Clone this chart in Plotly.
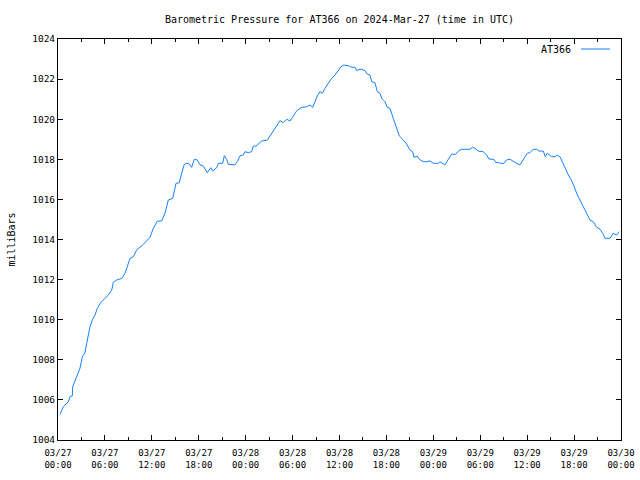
import plotly.graph_objects as go
import pandas as pd

# hours after 2024-03-27 00:00 UTC
hours = [0.26, 0.68, 1.32, 1.53, 1.83, 1.88, 2.39, 2.81, 3.11, 3.45, 3.67, 3.87, 4.09, 4.39,
         4.73, 5.03, 5.5, 6.01, 6.43, 6.87, 7.07, 7.51, 8.15, 8.57, 8.99, 9.21, 9.63, 10.06,
         10.9, 11.76, 12.19, 12.7, 13.26, 13.68, 14.11, 14.67, 15.09, 15.51, 15.82, 16.15,
         16.46, 16.79, 17.09, 17.43, 17.81, 18.16, 18.58, 19.09, 19.53, 19.78, 20.29, 20.5,
         21.06, 21.27, 21.57, 21.78, 22.63, 22.93, 23.27, 23.7, 23.91, 24.34, 24.77, 24.97,
         25.32, 25.61, 26.05, 26.77, 27.6, 28.39, 28.81, 29.24, 29.67, 30.09, 30.52, 30.95,
         31.16, 31.8, 32.23, 32.57, 32.86, 33.16, 33.5, 33.8, 34.14, 34.57, 35.0, 35.42,
         35.85, 36.19, 36.57, 37.12, 37.56, 37.98, 38.2, 38.49, 38.84, 39.26, 39.55, 39.9,
         40.11, 40.54, 40.83, 41.18, 41.4, 41.82, 42.11, 42.46, 42.88, 43.31, 43.65, 44.08,
         44.59, 45.01, 45.36, 45.52, 45.95, 46.2, 46.51, 46.71, 47.15, 47.57, 47.99, 48.63,
         48.85, 49.49, 49.91, 50.35, 50.86, 51.28, 51.62, 52.69, 52.98, 53.32, 53.75, 54.39,
         54.82, 55.12, 55.75, 56.01, 56.31, 56.52, 57.03, 57.38, 57.8, 58.22, 58.66, 59.08,
         59.51, 60.02, 60.36, 60.78, 61.22, 61.51, 62.06, 62.32, 62.57, 63.13, 63.55, 63.85,
         64.19, 64.54, 64.83, 65.26, 65.69, 66.02, 66.41, 66.75, 67.18, 67.61, 68.03, 68.45,
         68.89, 69.31, 69.66, 69.95, 70.59, 71.01, 71.44, 71.78]

pressure = [1005.28, 1005.66, 1005.91, 1006.16, 1006.2, 1006.66, 1007.16, 1007.58, 1008.15,
            1008.35, 1008.82, 1009.32, 1009.65, 1009.99, 1010.23, 1010.57, 1010.87, 1011.07,
            1011.23, 1011.48, 1011.86, 1011.98, 1012.06, 1012.31, 1012.89, 1013.06, 1013.14,
            1013.48, 1013.75, 1014.11, 1014.56, 1014.92, 1014.92, 1015.31, 1015.97, 1016.05,
            1016.80, 1016.83, 1017.30, 1017.75, 1017.80, 1017.77, 1017.60, 1018.00, 1017.97,
            1017.72, 1017.67, 1017.33, 1017.58, 1017.42, 1017.58, 1017.80, 1017.80, 1018.18,
            1018.00, 1017.75, 1017.72, 1017.88, 1018.17, 1018.22, 1018.38, 1018.33, 1018.38,
            1018.66, 1018.66, 1018.76, 1018.91, 1018.96, 1019.45, 1019.93, 1019.83, 1020.0,
            1019.91, 1020.16, 1020.41, 1020.54, 1020.59, 1020.62, 1020.71, 1020.59, 1020.87,
            1021.16, 1021.37, 1021.29, 1021.54, 1021.79, 1022.04, 1022.20, 1022.42, 1022.62,
            1022.70, 1022.67, 1022.59, 1022.59, 1022.42, 1022.49, 1022.49, 1022.42, 1022.25,
            1022.20, 1021.87, 1021.82, 1021.37, 1021.29, 1021.04, 1020.87, 1020.59, 1020.54,
            1020.04, 1019.55, 1019.16, 1019.00, 1018.76, 1018.46, 1018.38, 1018.10, 1018.16,
            1018.00, 1017.95, 1017.88, 1017.88, 1017.92, 1017.80, 1017.80, 1017.88, 1017.72,
            1018.00, 1018.26, 1018.25, 1018.43, 1018.50, 1018.50, 1018.60, 1018.55, 1018.41,
            1018.38, 1018.21, 1018.01, 1018.00, 1017.83, 1017.85, 1017.80, 1017.80, 1017.97,
            1018.00, 1017.88, 1017.80, 1017.72, 1017.97, 1018.30, 1018.33, 1018.50, 1018.50,
            1018.41, 1018.41, 1018.13, 1018.30, 1018.13, 1018.13, 1018.21, 1018.13, 1017.88,
            1017.60, 1017.22, 1016.93, 1016.63, 1016.22, 1015.97, 1015.64, 1015.31, 1014.97,
            1014.89, 1014.61, 1014.51, 1014.31, 1014.06, 1014.06, 1014.31, 1014.22, 1014.39]

series_name = "AT366"
title_text = "Barometric Pressure for AT366 on 2024-Mar-27 (time in UTC)"
y_label = "milliBars"
start = pd.Timestamp("2024-03-27 00:00")
end = pd.Timestamp("2024-03-30 00:00")
y_range = [1004, 1024]

times = [start + pd.Timedelta(hours=h) for h in hours]
tick_times = pd.date_range(start, end, freq="6h")
tick_text = [t.strftime("%m/%d<br>%H:%M") for t in tick_times]

color = "rgb(20,130,250)"
font = "DejaVu Sans Mono"

fig = go.Figure()
fig.add_trace(go.Scatter(x=times, y=pressure, mode="lines", name=series_name,
                         line=dict(color=color, width=1), showlegend=False))

fig.update_layout(
    width=640, height=480,
    margin=dict(l=58, r=19, t=39, b=40, autoexpand=False),
    paper_bgcolor="white", plot_bgcolor="white",
    title=dict(text=title_text, x=0.5, xref="paper", xanchor="center",
               y=1 - 19 / 480, yanchor="middle",
               font=dict(family=font, size=10, color="black")),
    font=dict(family=font, color="black"),
    xaxis=dict(range=[start, end], tickvals=list(tick_times), ticktext=tick_text,
               automargin=False,
               ticks="inside", ticklen=5, tickcolor="black", tickwidth=1,
               showline=True, linecolor="black", linewidth=1, mirror="allticks",
               showgrid=False, zeroline=False, ticklabelstandoff=4,
               tickfont=dict(family=font, size=9, color="black"),
               minor=dict(dtick=3 * 3600 * 1000, tick0=start, ticks="inside", ticklen=3,
                          tickcolor="black", showgrid=False)),
    yaxis=dict(range=y_range, dtick=2, tick0=1004, tickformat="d",
               automargin=False,
               ticks="inside", ticklen=5, tickcolor="black", tickwidth=1,
               showline=True, linecolor="black", linewidth=1, mirror="allticks",
               showgrid=False, zeroline=False,
               tickfont=dict(family=font, size=9.5, color="black"),
               title=dict(text=y_label, standoff=14,
                          font=dict(family=font, size=10, color="black"))),
)

# legend key (gnuplot style: label left of sample line)
fig.add_annotation(xref="paper", yref="paper", x=(573 - 58) / 563, y=(440 - 49) / 401,
                   xanchor="right", yanchor="middle", text=series_name, showarrow=False,
                   font=dict(family=font, size=10, color="black"))
fig.add_shape(type="line", xref="paper", yref="paper",
              x0=(581 - 58) / 563, x1=(610 - 58) / 563,
              y0=(440 - 49) / 401, y1=(440 - 49) / 401,
              line=dict(color=color, width=1))

fig.write_html("out.html")
